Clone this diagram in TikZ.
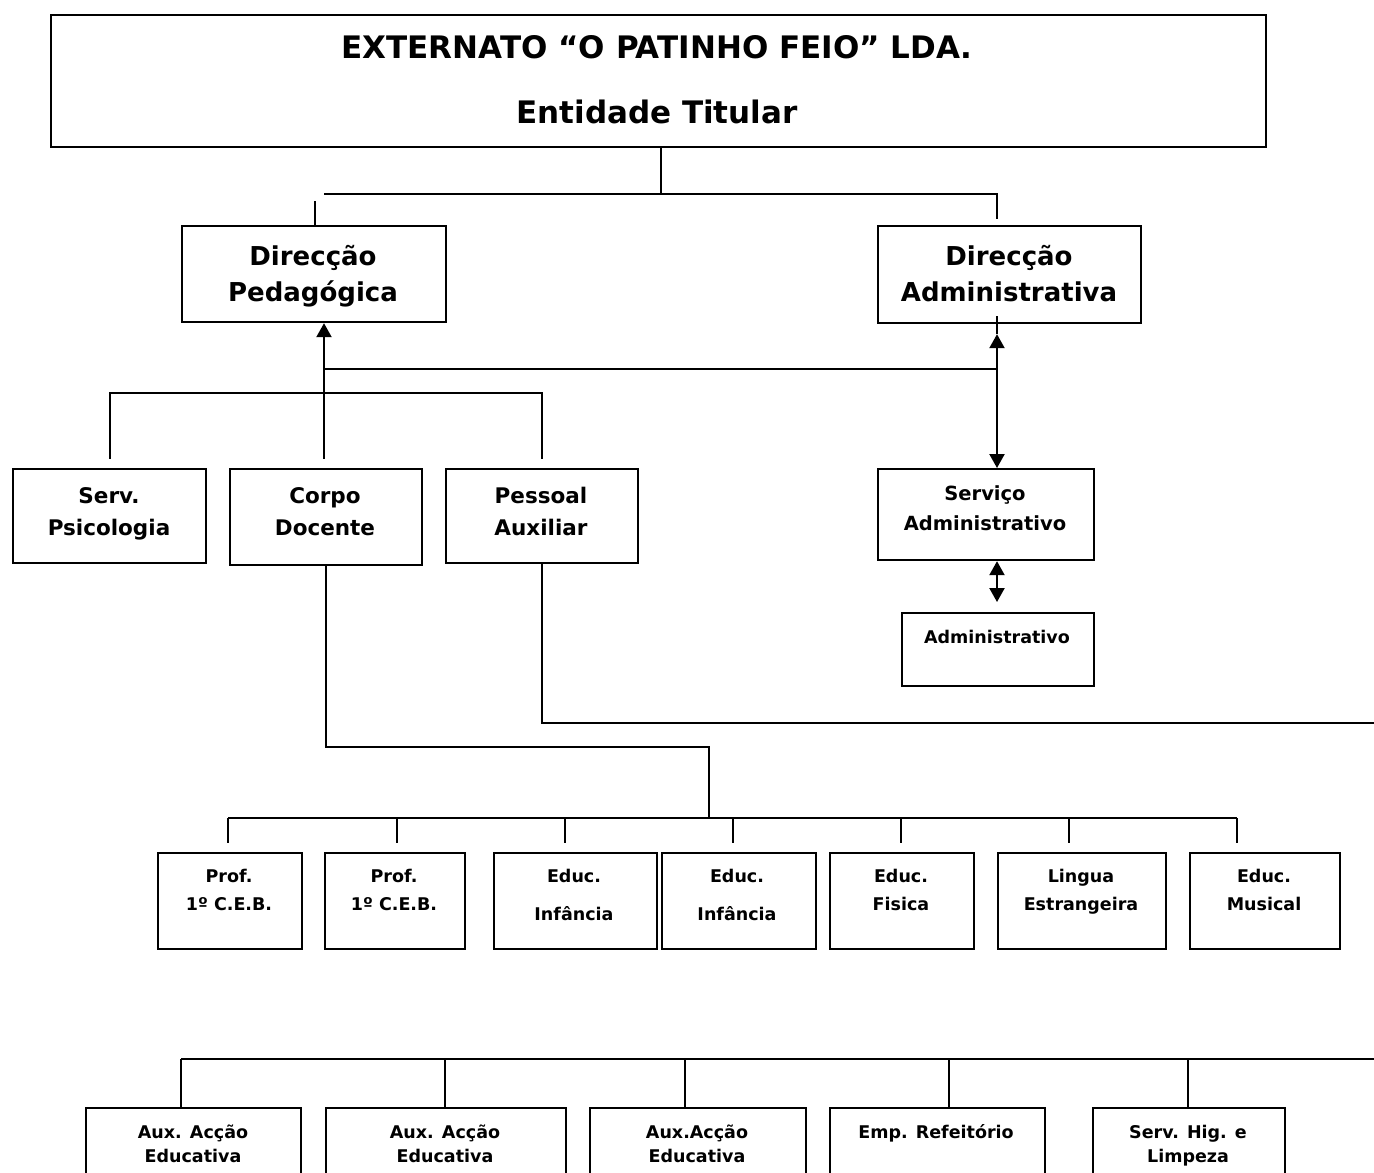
\documentclass[tikz,border=0pt]{standalone}
\usepackage{fontspec}
\setmainfont{DejaVu Sans}
\usetikzlibrary{arrows.meta}

\begin{document}
\begin{tikzpicture}[x=1pt, y=-1pt, line width=2.2pt,
    >={Triangle[width=15pt,length=14pt]},
    box/.style={draw, anchor=north west, inner sep=0pt},
    txt/.style={anchor=base, align=center, inner sep=0pt},
    lvl0/.style={font=\fontsize{31}{65}\selectfont\bfseries},
    lvl1/.style={font=\fontsize{26}{36}\selectfont\bfseries},
    lvl2/.style={font=\fontsize{21.5}{32}\selectfont\bfseries},
    lvl3/.style={font=\fontsize{19.5}{30}\selectfont\bfseries},
    lvl4/.style={font=\fontsize{17.5}{28}\selectfont\bfseries},
    lvl5/.style={font=\fontsize{17.5}{24}\selectfont\bfseries}]
\clip (0,0) rectangle (1374,1173);

% boxes
\node[box, minimum width=1215pt, minimum height=132pt] (top) at (50,14) {};
\node[box, minimum width=264pt, minimum height=96pt] (dp) at (181,225) {};
\node[box, minimum width=263pt, minimum height=97pt] (da) at (877,225) {};
\node[box, minimum width=193pt, minimum height=94pt] (sp) at (12,468) {};
\node[box, minimum width=192pt, minimum height=96pt] (cd) at (229,468) {};
\node[box, minimum width=192pt, minimum height=94pt] (pa) at (445,468) {};
\node[box, minimum width=216pt, minimum height=91pt] (sa) at (877,468) {};
\node[box, minimum width=192pt, minimum height=73pt] (ad) at (901,612) {};
\node[box, minimum width=144pt, minimum height=96pt] (p1) at (157,852) {};
\node[box, minimum width=140pt, minimum height=96pt] (p2) at (324,852) {};
\node[box, minimum width=163pt, minimum height=96pt] (i1) at (493,852) {};
\node[box, minimum width=154pt, minimum height=96pt] (i2) at (661,852) {};
\node[box, minimum width=144pt, minimum height=96pt] (ef) at (829,852) {};
\node[box, minimum width=168pt, minimum height=96pt] (le) at (997,852) {};
\node[box, minimum width=150pt, minimum height=96pt] (em) at (1189,852) {};
\node[box, minimum width=215pt, minimum height=90pt] (a1) at (85,1107) {};
\node[box, minimum width=240pt, minimum height=90pt] (a2) at (325,1107) {};
\node[box, minimum width=216pt, minimum height=90pt] (a3) at (589,1107) {};
\node[box, minimum width=215pt, minimum height=90pt] (rf) at (829,1107) {};
\node[box, minimum width=192pt, minimum height=90pt] (hg) at (1092,1107) {};

% texts (anchored at the baseline of the last line)
\node[txt, lvl0] (topt) at (657,123) {EXTERNATO “O PATINHO FEIO” LDA.\\Entidade Titular};
\node[txt, lvl1] (dpt) at (313,301) {Direcção\\Pedagógica};
\node[txt, lvl1] (dat) at (1009,301) {Direcção\\Administrativa};
\node[txt, lvl2] (spt) at (109,535) {Serv.\\Psicologia};
\node[txt, lvl2] (cdt) at (325,535) {Corpo\\Docente};
\node[txt, lvl2] (pat) at (541,535) {Pessoal\\Auxiliar};
\node[txt, lvl3] (sat) at (985,530) {Serviço\\Administrativo};
\node[txt, lvl4] (adt) at (997,643) {Administrativo};
\node[txt, lvl4] (p1t) at (229,910) {Prof.\\1º C.E.B.};
\node[txt, lvl4] (p2t) at (394,910) {Prof.\\1º C.E.B.};
\node[txt, lvl4] (i1t) at (574,920) {Educ.\\[10pt]Infância};
\node[txt, lvl4] (i2t) at (737,920) {Educ.\\[10pt]Infância};
\node[txt, lvl4] (eft) at (901,910) {Educ.\\Fisica};
\node[txt, lvl4] (let) at (1081,910) {Lingua\\Estrangeira};
\node[txt, lvl4] (emt) at (1264,910) {Educ.\\Musical};
\node[txt, lvl5] (a1t) at (193,1162) {Aux. Acção\\Educativa};
\node[txt, lvl5] (a2t) at (445,1162) {Aux. Acção\\Educativa};
\node[txt, lvl5] (a3t) at (697,1162) {Aux.Acção\\Educativa};
\node[txt, lvl5] (rft) at (936,1138) {Emp. Refeitório};
\node[txt, lvl5] (hgt) at (1188,1162) {Serv. Hig. e\\Limpeza};

% junctions
\coordinate (j0) at (661,194);
\coordinate (jl) at (324,194);
\coordinate (jr) at (997,194);
\coordinate (jp) at (315,201);
\coordinate (jm) at (324,393);
\coordinate (ja) at (324,369);
\coordinate (jb) at (997,369);
\coordinate (jd) at (709,747);
\coordinate (je) at (709,818);
\coordinate (rl) at (228,818);
\coordinate (rr) at (1237,818);
\coordinate (e1) at (1374,723);
\coordinate (bl) at (181,1059);
\coordinate (e2) at (1374,1059);

% lines
\draw (top.south -| j0) -- (j0);
\draw[shorten >=6pt] (jl) -- (jr) -- (jr |- da.north);
\draw (jp) -- (jp |- dp.north);

\draw[->] (jm) -- (jm |- dp.south);
\draw (ja) -- (jb);
\draw[shorten >=9pt] (jm) -- (jm |- cd.north);
\draw[shorten >=9pt] (jm) -| (sp.north);
\draw[shorten >=9pt] (jm) -| (pa.north);

\draw ([yshift=8pt]jb |- da.south) -- ++(0,18);
\draw[->, shorten >=10pt] (jb) -- (jb |- da.south);
\draw[->] (jb) -- (jb |- sa.north);
\draw[<->, shorten >=10pt] (jb |- sa.south) -- (jb |- ad.north);

\draw (cd.south) |- (jd) -- (je);
\draw (rl) -- (rr);
\foreach \n/\x in {p1/228, p2/397, i1/565, i2/733, ef/901, le/1069, em/1237}
    \draw[shorten >=9pt] (\x,818) -- (\x,818 |- \n.north);

\draw (pa.south) |- (e1);
\draw (bl) -- (e2);
\foreach \n/\x in {a1/181, a2/445, a3/685, rf/949, hg/1188}
    \draw (\x,1059) -- (\x,1059 |- \n.north);
\end{tikzpicture}
\end{document}
